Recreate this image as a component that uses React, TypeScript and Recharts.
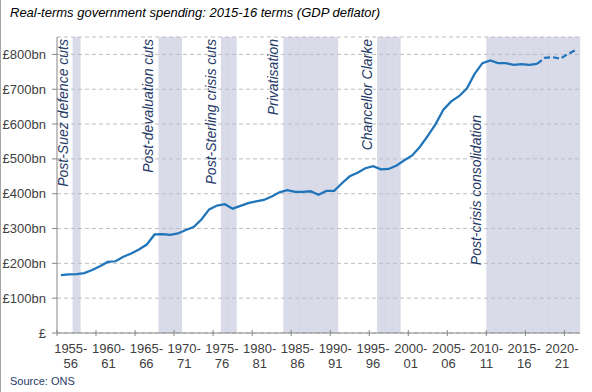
import {
  ComposedChart,
  Bar,
  Line,
  XAxis,
  YAxis,
  CartesianGrid,
  ReferenceLine,
} from "recharts";

const years = [
  "1955-56", "1956-57", "1957-58", "1958-59", "1959-60", "1960-61", "1961-62", "1962-63", "1963-64", "1964-65",
  "1965-66", "1966-67", "1967-68", "1968-69", "1969-70", "1970-71", "1971-72", "1972-73", "1973-74", "1974-75",
  "1975-76", "1976-77", "1977-78", "1978-79", "1979-80", "1980-81", "1981-82", "1982-83", "1983-84", "1984-85",
  "1985-86", "1986-87", "1987-88", "1988-89", "1989-90", "1990-91", "1991-92", "1992-93", "1993-94", "1994-95",
  "1995-96", "1996-97", "1997-98", "1998-99", "1999-00", "2000-01", "2001-02", "2002-03", "2003-04", "2004-05",
  "2005-06", "2006-07", "2007-08", "2008-09", "2009-10", "2010-11", "2011-12", "2012-13", "2013-14", "2014-15",
  "2015-16", "2016-17", "2017-18", "2018-19", "2019-20", "2020-21", "2021-22",
];

// outturn, £bn in 2015-16 prices
const outturn = [
  166, 168, 169, 172, 181, 192, 204, 206, 219, 228,
  240, 254, 283, 284, 282, 286, 296, 304, 326, 355,
  366, 370, 357, 365, 373, 378, 382, 392, 404, 410,
  405, 405, 407, 397, 408, 408, 430, 450, 460, 473,
  479, 470, 471, 481, 496, 510, 535, 566, 600, 641,
  665, 680, 702, 744, 775, 783, 775, 775, 770, 772,
  770, 773,
];

// forecast years, from 2016-17
const forecastStart = "2016-17";
const forecast = [773, 790, 792, 788, 802, 813];

const tickYears = [
  "1955-56", "1960-61", "1965-66", "1970-71", "1975-76", "1980-81", "1985-86",
  "1990-91", "1995-96", "2000-01", "2005-06", "2010-11", "2015-16", "2020-21",
];

const yTicks = [0, 100, 200, 300, 400, 500, 600, 700, 800];

const regions = [
  { label: "Post-Suez defence cuts", first: "1957-58", last: "1957-58" },
  { label: "Post-devaluation cuts", first: "1968-69", last: "1970-71" },
  { label: "Post-Sterling crisis cuts", first: "1976-77", last: "1977-78" },
  { label: "Privatisation", first: "1984-85", last: "1990-91" },
  { label: "Chancellor Clarke", first: "1996-97", last: "1998-99" },
  { label: "Post-crisis consolidation", first: "2010-11", last: "2021-22" },
];

const fStart = years.indexOf(forecastStart);

const data = years.map((year, i) => {
  const shaded = regions.some(
    (r) => i >= years.indexOf(r.first) && i <= years.indexOf(r.last)
  );
  return {
    year,
    shade: shaded ? 1 : 0,
    outturn: i < outturn.length ? outturn[i] : null,
    forecast: i >= fStart ? forecast[i - fStart] : null,
  };
});

const FONT = "'Liberation Sans', Arial, sans-serif";
const NAVY = "#1f3a68";

const XTick = (props: any) => {
  const { x, y, payload } = props;
  const half = payload.offset ?? 3.9;
  const k = tickYears.indexOf(payload.value);
  const cx = x + 9.9 - 1.25 * k;
  const [a, b] = String(payload.value).split("-");
  return (
    <g>
      <line x1={x - half} x2={x - half} y1={y - 3} y2={y + 3} stroke="#868686" />
      <text x={cx} y={y + 20} textAnchor="middle" fontSize={13} fill="#404040" fontFamily={FONT}>
        {a}-
      </text>
      <text x={cx} y={y + 35} textAnchor="middle" fontSize={13} fill="#404040" fontFamily={FONT}>
        {b}
      </text>
    </g>
  );
};

const RegionLabel = (props: any) => {
  const { viewBox, text, top } = props;
  const x = viewBox.x - 5;
  const y = viewBox.y + top;
  return (
    <text
      x={x}
      y={y}
      transform={`rotate(-90 ${x} ${y})`}
      textAnchor="end"
      fontSize={14}
      fontStyle="italic"
      fill={NAVY}
      fontFamily={FONT}
    >
      {text}
    </text>
  );
};

export default function App() {
  return (
    <div
      style={{
        position: "absolute",
        left: 0,
        top: 0,
        width: 592,
        height: 392,
        background: "#fff",
        fontFamily: FONT,
      }}
    >
      <div style={{ position: "absolute", left: 0, top: 0, width: 1, height: 392, background: "#a6a6a6" }} />
      <div
        style={{
          position: "absolute",
          left: 10,
          top: 5,
          fontSize: 13,
          fontStyle: "italic",
          color: "#000",
          lineHeight: "16px",
          whiteSpace: "nowrap",
        }}
      >
        Real-terms government spending: 2015-16 terms (GDP deflator)
      </div>
      <ComposedChart
        width={592}
        height={392}
        data={data}
        margin={{ top: 37, right: 12, bottom: 0, left: 0 }}
        barCategoryGap={0}
        barGap={0}
      >
        <CartesianGrid vertical={false} stroke="#bfbfbf" strokeDasharray="4 3" />
        <XAxis
          dataKey="year"
          height={59}
          ticks={tickYears}
          interval={0}
          tick={<XTick />}
          tickLine={false}
          tickSize={0}
          tickMargin={0}
          axisLine={{ stroke: "#868686" }}
        />
        <YAxis
          width={57}
          domain={[0, 850]}
          ticks={yTicks}
          tickFormatter={(v: number) => (v === 0 ? "£" : `£${v}bn`)}
          tick={{ fontSize: 13, fill: "#404040", fontFamily: FONT }}
          tickSize={5}
          tickMargin={6}
          tickLine={{ stroke: "#868686" }}
          axisLine={{ stroke: "#868686" }}
          allowDataOverflow
        />
        <YAxis yAxisId="shade" hide domain={[0, 1]} />
        <Bar
          yAxisId="shade"
          dataKey="shade"
          fill="#b3b7d3"
          fillOpacity={0.5}
          isAnimationActive={false}
        />
        {regions.map((r) => (
          <ReferenceLine
            key={r.label}
            x={r.first}
            position="start"
            stroke="none"
            label={
              <RegionLabel
                text={r.label}
                top={r.label === "Post-crisis consolidation" ? 78 : 2}
              />
            }
          />
        ))}
        <Line
          dataKey="outturn"
          stroke="#1f74ba"
          strokeWidth={2.25}
          dot={false}
          type="linear"
          connectNulls={false}
          isAnimationActive={false}
        />
        <Line
          dataKey="forecast"
          stroke="#1f74ba"
          strokeWidth={2.25}
          strokeDasharray="6 3"
          dot={false}
          type="linear"
          isAnimationActive={false}
        />
      </ComposedChart>
      <div
        style={{
          position: "absolute",
          left: 10,
          top: 375,
          fontSize: 11,
          color: "#1f3a68",
          lineHeight: "13px",
        }}
      >
        Source: ONS
      </div>
    </div>
  );
}
